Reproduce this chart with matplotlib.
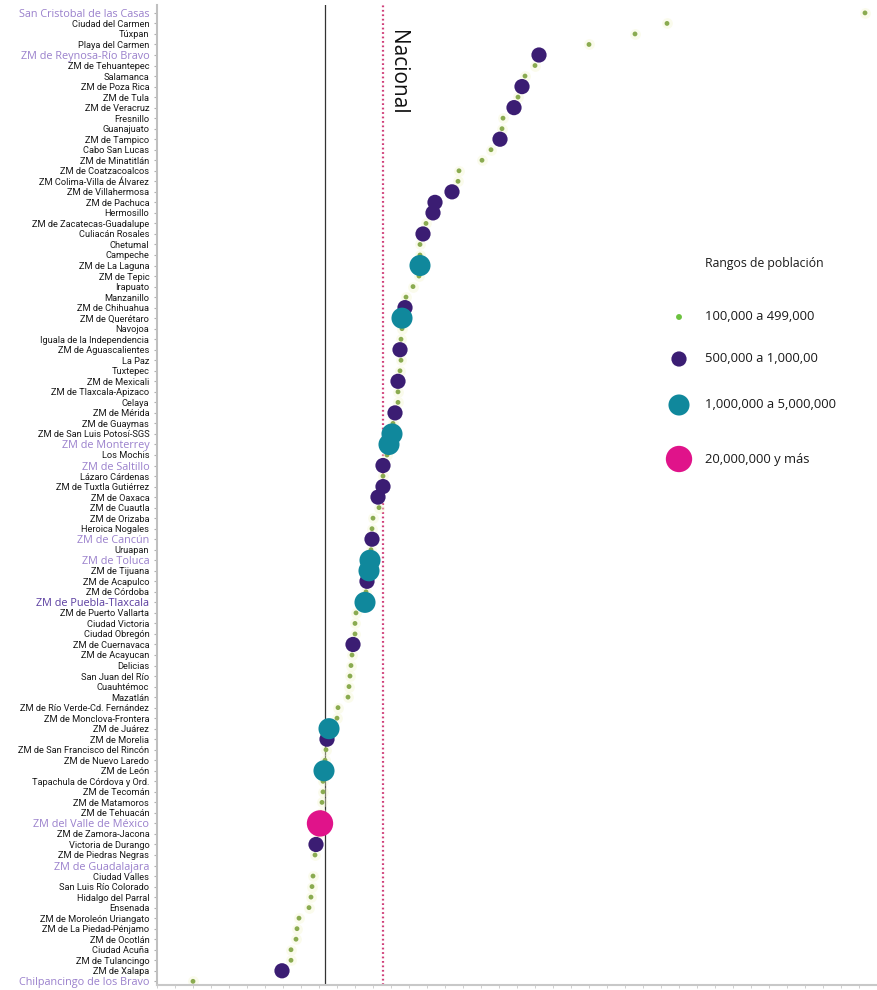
import numpy as np
import matplotlib
matplotlib.use("Agg")
import matplotlib.pyplot as plt
from matplotlib import font_manager as fm

narrow_prop = fm.FontProperties(family="Roboto")
hl_prop = fm.FontProperties(family="Open Sans")

cities = [
    "San Cristobal de las Casas", "Ciudad del Carmen", "Túxpan", "Playa del Carmen",
    "ZM de Reynosa-Río Bravo", "ZM de Tehuantepec", "Salamanca", "ZM de Poza Rica",
    "ZM de Tula", "ZM de Veracruz", "Fresnillo", "Guanajuato", "ZM de Tampico",
    "Cabo San Lucas", "ZM de Minatitlán", "ZM de Coatzacoalcos", "ZM Colima-Villa de Álvarez",
    "ZM de Villahermosa", "ZM de Pachuca", "Hermosillo", "ZM de Zacatecas-Guadalupe",
    "Culiacán Rosales", "Chetumal", "Campeche", "ZM de La Laguna", "ZM de Tepic",
    "Irapuato", "Manzanillo", "ZM de Chihuahua", "ZM de Querétaro", "Navojoa",
    "Iguala de la Independencia", "ZM de Aguascalientes", "La Paz", "Tuxtepec",
    "ZM de Mexicali", "ZM de Tlaxcala-Apizaco", "Celaya", "ZM de Mérida", "ZM de Guaymas",
    "ZM de San Luis Potosí-SGS", "ZM de Monterrey", "Los Mochis", "ZM de Saltillo",
    "Lázaro Cárdenas", "ZM de Tuxtla Gutiérrez", "ZM de Oaxaca", "ZM de Cuautla",
    "ZM de Orizaba", "Heroica Nogales", "ZM de Cancún", "Uruapan", "ZM de Toluca",
    "ZM de Tijuana", "ZM de Acapulco", "ZM de Córdoba", "ZM de Puebla-Tlaxcala",
    "ZM de Puerto Vallarta", "Ciudad Victoria", "Ciudad Obregón", "ZM de Cuernavaca",
    "ZM de Acayucan", "Delicias", "San Juan del Río", "Cuauhtémoc", "Mazatlán",
    "ZM de Río Verde-Cd. Fernández", "ZM de Monclova-Frontera", "ZM de Juárez",
    "ZM de Morelia", "ZM de San Francisco del Rincón", "ZM de Nuevo Laredo", "ZM de León",
    "Tapachula de Córdova y Ord.", "ZM de Tecomán", "ZM de Matamoros", "ZM de Tehuacán",
    "ZM del Valle de México", "ZM de Zamora-Jacona", "Victoria de Durango",
    "ZM de Piedras Negras", "ZM de Guadalajara", "Ciudad Valles", "San Luis Río Colorado",
    "Hidalgo del Parral", "Ensenada", "ZM de Moroleón Uriangato", "ZM de La Piedad-Pénjamo",
    "ZM de Ocotlán", "Ciudad Acuña", "ZM de Tulancingo", "ZM de Xalapa",
    "Chilpancingo de los Bravo",
]

values = [
    70.8, 51.0, 47.8, 43.2, 38.2, 37.8, 36.8, 36.5, 36.1, 35.7,
    34.6, 34.5, 34.3, 33.4, 32.5, 30.2, 30.1, 29.5, 27.8, 27.6,
    26.9, 26.6, 26.3, 26.3, 26.3, 26.2, 25.6, 24.9, 24.8, 24.5,
    24.5, 24.4, 24.3, 24.4, 24.3, 24.1, 24.1, 24.1, 23.8, 23.6,
    23.5, 23.2, 23.0, 22.6, 22.6, 22.6, 22.1, 22.2, 21.6, 21.5,
    21.5, 21.4, 21.3, 21.2, 21.0, 20.9, 20.8, 19.9, 19.8, 19.8,
    19.6, 19.5, 19.4, 19.3, 19.2, 19.1, 18.1, 18.0, 17.2, 17.0,
    16.9, 16.8, 16.7, 16.6, 16.6, 16.5, 16.4, 16.3, 16.1, 15.9,
    15.8, np.nan, 15.6, 15.5, 15.4, 15.2, 14.2, 14.0, 13.9, 13.4,
    13.4, 12.5, 3.6,
]

# population range: 0 = 100k-499k, 1 = 500k-1M, 2 = 1M-5M, 3 = 20M+
ranges = [
    0, 0, 0, 0, 1, 0, 0, 1, 0, 1,
    0, 0, 1, 0, 0, 0, 0, 1, 1, 1,
    0, 1, 0, 0, 2, 0, 0, 0, 1, 2,
    0, 0, 1, 0, 0, 1, 0, 0, 1, 0,
    2, 2, 0, 1, 0, 1, 1, 0, 0, 0,
    1, 0, 2, 2, 1, 0, 2, 0, 0, 0,
    1, 0, 0, 0, 0, 0, 0, 0, 2, 1,
    0, 0, 2, 0, 0, 0, 0, 3, 0, 1,
    0, 2, 0, 0, 0, 0, 0, 0, 0, 0,
    0, 1, 0,
]

highlight = ["San Cristobal de las Casas", "ZM de Reynosa-Río Bravo", "ZM de Monterrey",
             "ZM de Saltillo", "ZM de Cancún", "ZM de Toluca", "ZM de Puebla-Tlaxcala",
             "ZM del Valle de México", "ZM de Guadalajara", "Chilpancingo de los Bravo"]

reference_line = 16.8
nacional = 22.6

range_labels = ["100,000 a 499,000", "500,000 a 1,000,00", "1,000,000 a 5,000,000", "20,000,000 y más"]
range_colors = ["#8aab50", "#3b1d73", "#10889c", "#e0138a"]
legend_colors = ["#6cc23f", "#3b1d73", "#10889c", "#e0138a"]
range_sizes = [12, 120, 230, 360]

fig = plt.figure(figsize=(8.77, 9.90), dpi=100)
ax = fig.add_axes([157 / 877, 5 / 990, 720 / 877, 980 / 990])

y = np.arange(len(cities))
vals = np.array(values, dtype=float)
rng = np.array(ranges)

# faint halo under small dots
m0 = rng == 0
ax.scatter(vals[m0], y[m0], s=60, color="#f4f6d0", alpha=0.4, linewidths=0, zorder=2)

ax.axvline(reference_line, color="#333333", lw=0.9, zorder=1)
ax.axvline(nacional, color="#d0407a", lw=1.6, ls=(0, (0.8, 1.2)), zorder=1)
ax.text(nacional + 0.35, 1.6, "Nacional", rotation=-90, va="top", ha="left",
        fontsize=15, color="#111111", family="Open Sans")

for k in range(4):
    m = rng == k
    ax.scatter(vals[m], y[m], s=range_sizes[k], color=range_colors[k],
               edgecolors="none", zorder=3 + k)

ax.set_xlim(0, 72)
ax.set_ylim(92.35, -0.75)
ax.set_yticks(y)
ax.set_yticklabels(cities)
ax.tick_params(axis="y", length=2.5, width=0.8, color="#b0b0b0", pad=3)
ax.set_xticks(np.arange(0, 72, 1.8))
ax.set_xticklabels([])
ax.tick_params(axis="x", length=2.5, width=0.6, color="#c8c8c8")
for s in ["top", "right"]:
    ax.spines[s].set_visible(False)
ax.spines["left"].set_color("#c0c0c0")
ax.spines["left"].set_linewidth(1.5)
ax.spines["bottom"].set_color("#c8c8c8")
ax.spines["bottom"].set_linewidth(1.5)

# fit label fonts so the longest labels span ~132 px like the reference
renderer = fig.canvas.get_renderer()
def fit_size(text, prop, target_px):
    t = fig.text(0, 0, text, fontproperties=prop, fontsize=10)
    w = t.get_window_extent(renderer).width
    t.remove()
    return 10 * target_px / w

black_size = min(fit_size("ZM de San Francisco del Rincón", narrow_prop, 132), 8.2)
hl_size = fit_size("San Cristobal de las Casas", hl_prop, 132)

for lbl in ax.get_yticklabels():
    t = lbl.get_text()
    if t in highlight:
        lbl.set_fontproperties(hl_prop)
        lbl.set_color("#5a3da0" if t == "ZM de Puebla-Tlaxcala" else "#9a80cc")
        lbl.set_fontsize(hl_size)
    else:
        lbl.set_fontproperties(narrow_prop)
        lbl.set_color("#1a1a1a")
        lbl.set_fontsize(black_size)

# legend
lax = fig.add_axes([0, 0, 1, 1], facecolor="none")
lax.set_xlim(0, 877)
lax.set_ylim(990, 0)
lax.axis("off")
lax.text(705, 264, "Rangos de población", fontsize=8.8, va="center", ha="left",
         family="Open Sans", color="#1a1a1a")
leg_y = [317, 359, 405, 459]
for k in range(4):
    lax.scatter([679], [leg_y[k]], s=range_sizes[k] * (1.5 if k == 0 else 1.0),
                color=legend_colors[k], edgecolors="none")
    lax.text(705, leg_y[k], range_labels[k], fontsize=9.4, va="center", ha="left",
             family="Open Sans", color="#1a1a1a")

fig.savefig("out.png", dpi=100)
